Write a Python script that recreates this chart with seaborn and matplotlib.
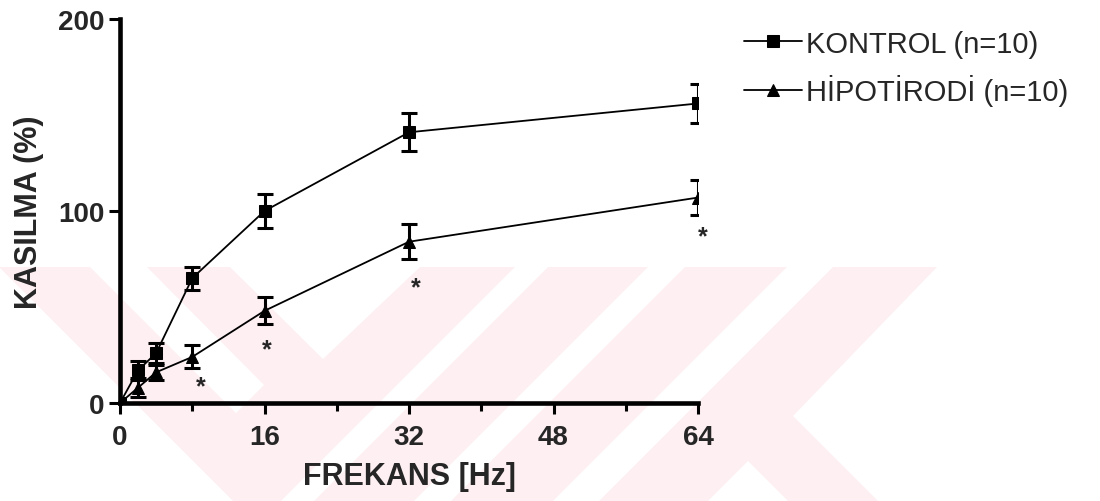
import numpy as np
import pandas as pd
import matplotlib
matplotlib.use("Agg")
import matplotlib.pyplot as plt
from matplotlib.patches import Polygon
from matplotlib.ticker import FixedLocator
import seaborn as sns

# frequency response data (mean +/- SEM)
freq = [0, 2, 4, 8, 16, 32, 64]
kontrol_mean = [0, 17, 26, 65, 100, 141, 156]
kontrol_sem = [0, 5, 5, 6, 9, 10, 10]
hipo_mean = [0, 8, 16, 24, 48, 84, 107]
hipo_sem = [0, 5, 4, 6, 7, 9, 9]

# significance marks (*) under the hypothyroid curve
star_x = [8.9, 16.3, 32.8, 64.5]
star_y = [11, 30, 62.5, 89]

labels = ['KONTROL (n=10)', 'HİPOTİRODİ (n=10)']

sns.set_style('ticks')
plt.rcParams['font.family'] = ['Liberation Sans', 'DejaVu Sans']

df = pd.DataFrame({
    'freq': freq * 2,
    'mean': kontrol_mean + hipo_mean,
    'group': [labels[0]] * len(freq) + [labels[1]] * len(freq),
})

fig = plt.figure(figsize=(11, 5.02), dpi=100)

# faint pink background watermark (pixel coords, origin top-left)
bg = fig.add_axes([0, 0, 1, 1], zorder=0)
bg.set_xlim(0, 1100)
bg.set_ylim(502, 0)
bg.axis('off')
pink = '#fdeff2'
bg.add_patch(Polygon([(0, 268), (937, 268), (793, 417), (878, 502), (0, 502)],
                     closed=True, color=pink, lw=0))
white_parts = [
    [(0, 269), (233, 502), (0, 502)],
    [(90, 268), (147, 268), (264, 386), (236, 414)],
    [(230, 268), (420, 268), (323, 360)],
    [(515, 268), (548, 268), (314, 502), (281, 502)],
    [(648, 268), (685, 268), (451, 502), (414, 502)],
    [(787, 268), (833, 268), (599, 502), (553, 502)],
    [(748, 462), (788, 502), (708, 502)],
]
for pts in white_parts:
    bg.add_patch(Polygon(pts, closed=True, color='white', lw=0))

ax = fig.add_axes([120 / 1100, 98 / 502, 578 / 1100, 384 / 502], zorder=1)
ax.set_facecolor('none')

sns.lineplot(data=df, x='freq', y='mean', hue='group', style='group',
             markers={labels[0]: 's', labels[1]: '^'}, dashes=False,
             palette=['black', 'black'], linewidth=1.3, markersize=9,
             markeredgecolor='black', ax=ax)

ax.errorbar(freq, kontrol_mean, yerr=kontrol_sem, fmt='none', ecolor='black',
            elinewidth=2.2, capsize=5.5, capthick=2.2)
ax.errorbar(freq, hipo_mean, yerr=hipo_sem, fmt='none', ecolor='black',
            elinewidth=2.2, capsize=5.5, capthick=2.2)

for sx, sy in zip(star_x, star_y):
    ax.annotate('*', (sx, sy), xytext=(0, -0.45 * 18), textcoords='offset points',
                ha='center', va='baseline', fontsize=18, fontweight='bold',
                annotation_clip=False)

ax.set_xlim(0, 64)
ax.set_ylim(0, 200)
ax.xaxis.set_major_locator(FixedLocator([0, 16, 32, 48, 64]))
ax.xaxis.set_minor_locator(FixedLocator([8, 24, 40, 56]))
ax.yaxis.set_major_locator(FixedLocator([0, 100, 200]))

sns.despine(ax=ax)
for side in ['left', 'bottom']:
    ax.spines[side].set_linewidth(3.3)
    ax.spines[side].set_color('black')

ax.tick_params(axis='both', which='major', length=8, width=2.2, color='black',
               labelsize=20)
ax.tick_params(axis='x', which='major', pad=7)
ax.tick_params(axis='y', which='major', pad=3)
ax.tick_params(axis='x', which='minor', length=6, width=2.2, color='black')
for lab in ax.get_xticklabels() + ax.get_yticklabels():
    lab.set_fontweight('bold')

ax.set_xlabel('FREKANS [Hz]', fontsize=22, fontweight='bold', labelpad=8)
ax.set_ylabel('KASILMA (%)', fontsize=22, fontweight='bold', labelpad=10)

ax.legend_.remove()
handles, leg_labels = ax.get_legend_handles_labels()
fig.legend(handles[:2], labels, loc='upper left', bbox_to_anchor=(732 / 1100, 1 - 19 / 502),
           frameon=False, fontsize=21, handlelength=2.0, handletextpad=0.15,
           labelspacing=0.55, borderaxespad=0)

# data marks at the right edge are cut by the axes, as in the original
for art in ax.lines + list(ax.collections):
    art.set_clip_path(ax.patch)

fig.savefig('out.png', dpi=100)
